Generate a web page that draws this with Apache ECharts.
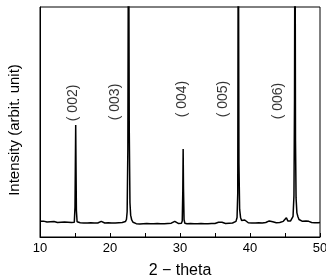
<!DOCTYPE html>
<html>
<head>
<meta charset="utf-8">
<script src="https://cdn.jsdelivr.net/npm/echarts@6/dist/echarts.min.js"></script>
<style>
  html, body { margin: 0; padding: 0; background: #fff; }
  #xrd { width: 326px; height: 279px; }
</style>
</head>
<body>
<div id="xrd"></div>
<script>
var twoTheta = [10.00,10.25,10.50,10.75,11.00,11.25,11.50,11.75,12.00,12.25,12.50,12.75,13.00,13.25,13.50,13.75,14.00,14.25,14.50,14.75,14.90,15.00,15.05,15.10,15.15,15.20,15.30,15.50,15.75,16.00,16.25,16.50,16.75,17.00,17.25,17.50,17.75,18.00,18.25,18.50,18.75,19.00,19.25,19.50,19.75,20.00,20.25,20.50,20.75,21.00,21.25,21.50,21.75,22.00,22.20,22.35,22.45,22.55,22.65,22.75,22.85,22.95,23.10,23.30,23.50,23.75,24.00,24.25,24.50,24.75,25.00,25.25,25.50,25.75,26.00,26.25,26.50,26.75,27.00,27.25,27.50,27.75,28.00,28.25,28.50,28.75,29.00,29.25,29.50,29.75,30.00,30.20,30.32,30.40,30.45,30.50,30.58,30.70,31.00,31.25,31.50,31.75,32.00,32.25,32.50,32.75,33.00,33.25,33.50,33.75,34.00,34.25,34.50,34.75,35.00,35.25,35.50,35.75,36.00,36.25,36.50,36.75,37.00,37.25,37.50,37.75,38.00,38.15,38.25,38.33,38.42,38.52,38.65,38.80,39.00,39.25,39.45,39.75,40.00,40.25,40.50,40.75,41.00,41.25,41.50,41.75,42.00,42.25,42.50,42.75,43.00,43.25,43.50,43.75,44.00,44.25,44.50,44.75,45.00,45.20,45.40,45.60,45.80,46.00,46.15,46.28,46.36,46.43,46.50,46.58,46.70,46.85,47.00,47.25,47.50,47.75,48.00,48.20,48.40,48.60,48.80,49.00,49.25,49.50,49.75,50.00];
var counts = [68,66,69,67,65,68,66,64,67,65,63,66,64,62,65,63,64,62,63,62,64,130,310,487,290,115,66,60,62,60,61,59,61,60,62,60,61,59,61,63,68,64,61,60,62,60,61,59,61,60,62,61,63,64,67,76,110,380,1600,470,150,95,74,64,60,58,59,57,59,58,57,59,57,58,56,58,57,59,57,58,56,58,57,59,58,60,62,68,62,59,58,60,70,200,383,210,75,60,58,57,59,57,58,56,58,57,59,57,58,56,58,57,59,58,59,61,64,70,64,60,59,58,60,59,61,63,68,85,190,1600,320,120,85,72,66,74,66,62,60,61,59,61,60,62,60,61,62,63,65,70,73,66,63,62,64,63,65,68,75,84,70,67,70,74,90,180,600,1600,420,170,105,88,76,70,68,66,70,76,68,64,63,64,62,63,62,63];

var peakNames = ['( 002)', '( 003)', '( 004)', '( 005)', '( 006)'];
var peakLabelX = [14.71, 20.71, 30.29, 36.14, 44.0];
var peakLabelY = [583, 587, 600, 600, 591];

var xrdChart = echarts.init(document.getElementById('xrd'));

var pattern = twoTheta.map(function (t, i) { return [t, counts[i]]; });
var labelPts = peakNames.map(function (n, i) {
    return { name: n, value: [peakLabelX[i], peakLabelY[i]] };
});

var option = {
    animation: false,
    grid: {
        left: 40,
        right: 6,
        top: 7,
        bottom: 42,
        outerBoundsMode: 'none',
        show: true,
        borderColor: '#000',
        borderWidth: 1
    },
    xAxis: {
        type: 'value',
        min: 10,
        max: 50,
        interval: 5,
        name: '2 \u2212 theta',
        nameLocation: 'middle',
        nameGap: 26,
        nameTextStyle: { fontSize: 16, color: '#000', fontFamily: 'Liberation Sans' },
        axisLine: { lineStyle: { color: '#000', width: 1 } },
        axisTick: { inside: true, length: 4, lineStyle: { color: '#000' } },
        axisLabel: {
            color: '#000',
            fontSize: 13,
            margin: 5,
            fontFamily: 'Liberation Sans',
            hideOverlap: false,
            formatter: function (v) { return v % 10 === 0 ? v : ''; }
        },
        splitLine: { show: false }
    },
    yAxis: {
        type: 'value',
        min: 0,
        max: 1000,
        name: 'Intensity (arbit. unit)',
        nameLocation: 'middle',
        nameGap: 18,
        nameTextStyle: { fontSize: 15, color: '#000', fontFamily: 'Liberation Sans', padding: [0, 16, 0, 0] },
        axisLine: { show: true, lineStyle: { color: '#000', width: 1 } },
        axisTick: { show: false },
        axisLabel: { show: false },
        splitLine: { show: false }
    },
    series: [
        {
            name: 'XRD',
            type: 'line',
            data: pattern,
            showSymbol: false,
            clip: true,
            lineStyle: { color: '#000', width: 1.5 }
        },
        {
            name: 'peaks',
            type: 'scatter',
            data: labelPts,
            symbolSize: 0,
            label: {
                show: true,
                position: 'inside',
                rotate: 90,
                formatter: '{b}',
                color: '#000',
                fontSize: 14,
                fontFamily: 'Liberation Sans'
            }
        }
    ]
};

xrdChart.setOption(option);
</script>
</body>
</html>
